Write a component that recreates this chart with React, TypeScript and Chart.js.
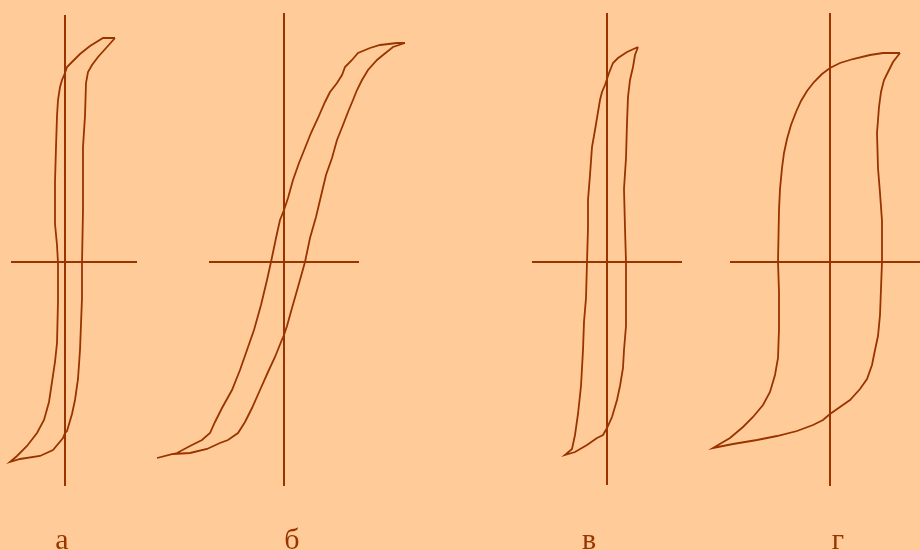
import React, { useEffect, useRef } from "react";
import { Chart, registerables } from "chart.js";

Chart.register(...registerables);

// Hysteresis loops B(H) for four magnetic materials.
// Units: H and B are offsets from each panel's origin (arbitrary units).
type P = { x: number; y: number };
const pts = (a: number[][]): P[] => a.map(([x, y]) => ({ x, y }));

// а — narrow, steep loop
const loopA = pts([
  [50, 224], [38, 224], [25, 216], [15, 208], [7, 200], [2, 195], [0, 189], [-3, 182],
  [-5, 175], [-7, 162], [-8, 146], [-9, 115], [-10, 80], [-10, 38], [-8, 17], [-7, -1],
  [-7, -39], [-8, -81], [-10, -100], [-13, -120], [-16, -140], [-21, -158], [-28, -171],
  [-38, -184], [-48, -194], [-55, -200],
  [-45, -197], [-25, -194], [-12, -188], [-2, -176], [0, -171], [2, -169], [7, -152],
  [10, -138], [13, -117], [15, -88], [17, -36], [17, -1], [18, 52], [18, 115], [20, 146],
  [21, 179], [23, 190], [27, 197], [33, 205], [42, 215], [50, 224],
]);

// б — soft, sloped loop
const loopB = pts([
  [121, 219], [109, 215], [99, 207], [93, 202], [84, 192], [78, 182], [73, 172], [69, 162],
  [64, 150], [59, 137], [53, 122], [48, 104], [42, 87], [37, 66], [32, 45], [26, 24],
  [21, 0], [14, -25], [8, -46], [3, -64], [0, -73], [-3, -80], [-9, -95], [-16, -110],
  [-24, -128], [-32, -146], [-39, -160], [-46, -171], [-56, -178], [-64, -181], [-77, -187],
  [-94, -191], [-111, -192], [-127, -196],
  [-107, -191], [-94, -184], [-82, -178], [-74, -171], [-69, -160], [-62, -146], [-52, -128],
  [-44, -108], [-37, -88], [-30, -68], [-23, -43], [-17, -18], [-13, 0], [-8, 24], [-4, 42],
  [0, 52], [4, 64], [9, 82], [15, 99], [21, 114], [27, 129], [34, 144], [41, 160], [46, 170],
  [53, 179], [58, 187], [61, 195], [68, 202], [74, 209], [86, 214], [96, 217], [113, 219],
  [121, 219],
]);

// в — narrow loop, wider coercivity
const loopC = pts([
  [31, 215], [20, 210], [11, 204], [6, 199], [2, 189], [0, 183], [-2, 177], [-5, 170],
  [-7, 162], [-9, 150], [-12, 132], [-15, 115], [-17, 87], [-19, 62], [-19, 34], [-20, 0],
  [-21, -36], [-23, -60], [-24, -88], [-26, -124], [-29, -152], [-32, -173], [-35, -187],
  [-42, -193],
  [-32, -190], [-20, -183], [-10, -176], [-4, -173], [0, -166], [5, -155], [10, -138],
  [13, -124], [16, -106], [17, -88], [19, -64], [19, 0], [18, 34], [17, 73], [19, 104],
  [20, 139], [21, 165], [23, 182], [26, 195], [28, 207], [31, 215],
]);

// г — wide, hard-magnetic loop
const loopD = pts([
  [70, 209], [53, 209], [40, 207], [23, 203], [10, 199], [0, 194], [-8, 188], [-16, 180],
  [-23, 171], [-29, 161], [-34, 150], [-39, 137], [-43, 123], [-46, 109], [-48, 94],
  [-50, 73], [-51, 52], [-52, 0], [-51, -30], [-51, -67], [-52, -96], [-55, -113],
  [-60, -130], [-67, -143], [-77, -155], [-87, -165], [-100, -176], [-117, -186],
  [-97, -182], [-73, -178], [-53, -174], [-33, -169], [-17, -163], [-7, -158], [0, -152],
  [10, -145], [20, -138], [30, -127], [37, -117], [42, -103], [45, -88], [48, -74],
  [50, -53], [52, 0], [52, 41], [50, 69], [48, 94], [47, 129], [49, 155], [51, 170],
  [54, 182], [58, 190], [63, 200], [70, 209],
]);

// Axis extents per panel: [Hmin, Hmax] and [Bmin, Bmax]
const hAxes = [[-54, 72], [-75, 75], [-75, 75], [-100, 90]];
const bAxes = [[-224, 247], [-224, 249], [-223, 249], [-224, 249]];
const loops = [loopA, loopB, loopC, loopD];
const labels = ["а", "б", "в", "г"];

const INK = "#993300";
const PAPER = "#FFCC99";

// Placement of each panel on the page (origin position in px).
const panels = [
  { left: 0, width: 150, ox: 65, labelX: 62 },
  { left: 150, width: 270, ox: 284, labelX: 292 },
  { left: 500, width: 200, ox: 607, labelX: 589 },
  { left: 700, width: 220, ox: 830, labelX: 838 },
];
const OY = 262;
const H = 550;

function Panel({ idx }: { idx: number }) {
  const ref = useRef<HTMLCanvasElement | null>(null);
  const p = panels[idx];
  useEffect(() => {
    if (!ref.current) return;
    const [h0, h1] = hAxes[idx];
    const [b0, b1] = bAxes[idx];
    const chart = new Chart(ref.current, {
      type: "scatter",
      data: {
        datasets: [
          {
            data: [{ x: h0, y: 0 }, { x: h1, y: 0 }],
            showLine: true, borderColor: INK, borderWidth: 2, pointRadius: 0,
          },
          {
            data: [{ x: 0, y: b0 }, { x: 0, y: b1 }],
            showLine: true, borderColor: INK, borderWidth: 2, pointRadius: 0,
          },
          {
            data: loops[idx],
            showLine: true, borderColor: INK, borderWidth: 1.8, pointRadius: 0,
            tension: 0,
          },
        ],
      },
      options: {
        animation: false,
        responsive: false,
        layout: { padding: 0 },
        plugins: { legend: { display: false }, tooltip: { enabled: false } },
        scales: {
          x: { type: "linear", display: false, min: p.left - p.ox, max: p.left + p.width - p.ox },
          y: { type: "linear", display: false, min: OY - H, max: OY },
        },
      },
    });
    return () => chart.destroy();
  }, [idx]);
  return (
    <canvas
      ref={ref}
      width={p.width}
      height={H}
      style={{ position: "absolute", left: p.left, top: 0, width: p.width, height: H }}
    />
  );
}

export default function App() {
  return (
    <div
      style={{
        position: "fixed", left: 0, top: 0, width: 920, height: H,
        background: PAPER, overflow: "hidden",
      }}
    >
      {panels.map((_, i) => (
        <Panel key={i} idx={i} />
      ))}
      {labels.map((t, i) => (
        <div
          key={t}
          style={{
            position: "absolute", left: panels[i].labelX - 40, width: 80, top: 524,
            textAlign: "center", fontFamily: "'Liberation Serif', serif", fontSize: 30,
            lineHeight: "30px", color: INK,
          }}
        >
          {t}
        </div>
      ))}
    </div>
  );
}
